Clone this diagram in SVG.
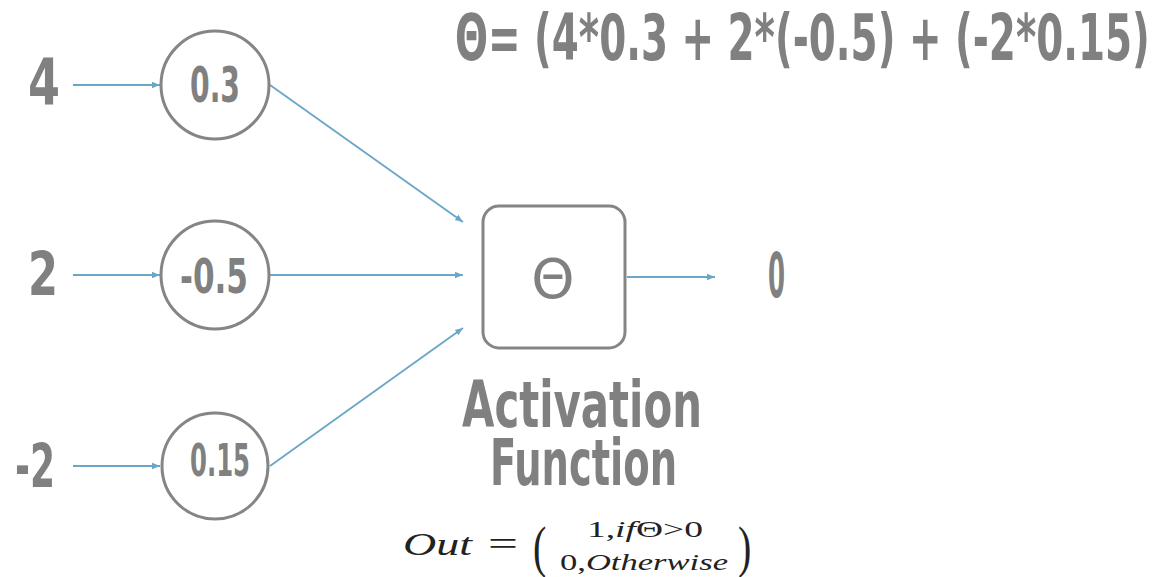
<svg xmlns="http://www.w3.org/2000/svg" width="1168" height="577" viewBox="0 0 1168 577">
<style>
.hand{font-family:"DejaVu Sans Condensed","DejaVu Sans",sans-serif;font-weight:bold;fill:#808080}
.node{fill:#fff;stroke:#858585;stroke-width:3}
.edge{stroke:#6aa6c8;stroke-width:1.8;fill:none}
.math{font-family:"Liberation Serif",serif;fill:#222}
</style>
<defs>
<marker id="ah" viewBox="0 0 10 10" refX="10" refY="5" markerWidth="8" markerHeight="8" orient="auto" markerUnits="userSpaceOnUse">
<path d="M0,1 L10,5 L0,9 Z" fill="#6aa6c8"/>
</marker>
</defs>
<rect width="1168" height="577" fill="#fff"/>
<g id="title"><text class="hand" x="0" y="0" font-size="64" transform="translate(455 60) scale(0.6 1)" textLength="1158" lengthAdjust="spacingAndGlyphs">Θ= (4*0.3 + 2*(-0.5) + (-2*0.15)</text></g>
<g id="connectors">
<line class="edge" x1="73" y1="85" x2="160" y2="85" marker-end="url(#ah)"/>
<line class="edge" x1="73" y1="275" x2="160" y2="275" marker-end="url(#ah)"/>
<line class="edge" x1="73" y1="466" x2="160" y2="466" marker-end="url(#ah)"/>
<line class="edge" x1="270" y1="85" x2="463" y2="222" marker-end="url(#ah)"/>
<line class="edge" x1="270" y1="275" x2="463" y2="275" marker-end="url(#ah)"/>
<line class="edge" x1="270" y1="466" x2="463" y2="328" marker-end="url(#ah)"/>
<line class="edge" x1="627" y1="277" x2="715" y2="277" marker-end="url(#ah)"/>
</g>
<g id="in1"><text class="hand" x="28" y="105" font-size="64" textLength="32" lengthAdjust="spacingAndGlyphs">4</text></g>
<g id="in2"><text class="hand" x="28" y="295" font-size="60" textLength="30" lengthAdjust="spacingAndGlyphs">2</text></g>
<g id="in3"><text class="hand" x="15" y="487" font-size="60" textLength="40" lengthAdjust="spacingAndGlyphs">-2</text></g>
<g id="w1"><circle class="node" cx="215" cy="85" r="54"/><text class="hand" x="190" y="102" font-size="50" textLength="50" lengthAdjust="spacingAndGlyphs">0.3</text></g>
<g id="w2"><circle class="node" cx="215" cy="275" r="54"/><text class="hand" x="180" y="293" font-size="48" textLength="68" lengthAdjust="spacingAndGlyphs">-0.5</text></g>
<g id="w3"><circle class="node" cx="215" cy="466" r="53"/><text class="hand" x="190" y="476" font-size="44" textLength="60" lengthAdjust="spacingAndGlyphs">0.15</text></g>
<g id="act"><rect class="node" x="483" y="206" width="142" height="142" rx="16"/><text x="553" y="298" font-size="55" text-anchor="middle" font-family="DejaVu Sans,sans-serif" fill="#808080">Θ</text></g>
<g id="out"><text class="hand" x="768" y="297" font-size="62" textLength="17" lengthAdjust="spacingAndGlyphs">0</text></g>
<g id="label"><text class="hand" font-size="64"><tspan x="462" y="427" textLength="240" lengthAdjust="spacingAndGlyphs">Activation</tspan><tspan x="490" y="485" textLength="187" lengthAdjust="spacingAndGlyphs">Function</tspan></text></g>
<g id="formula">
<text class="math" x="403" y="555" font-size="32" font-style="italic" textLength="69" lengthAdjust="spacingAndGlyphs">Out</text>
<text class="math" x="488" y="555" font-size="34" textLength="30" lengthAdjust="spacingAndGlyphs">=</text>
<text class="math" x="533" y="566" font-size="50" transform="translate(533 566) scale(0.8 1.15) translate(-533 -566)">(</text>
<text class="math" x="587" y="537" font-size="24" textLength="116" lengthAdjust="spacingAndGlyphs">1,<tspan font-style="italic">if</tspan>Θ&gt;0</text>
<text class="math" x="560" y="570" font-size="24" textLength="168" lengthAdjust="spacingAndGlyphs">0,<tspan font-style="italic">Otherwise</tspan></text>
<text class="math" x="738" y="566" font-size="50" transform="translate(738 566) scale(0.8 1.15) translate(-738 -566)">)</text>
</g>
</svg>
